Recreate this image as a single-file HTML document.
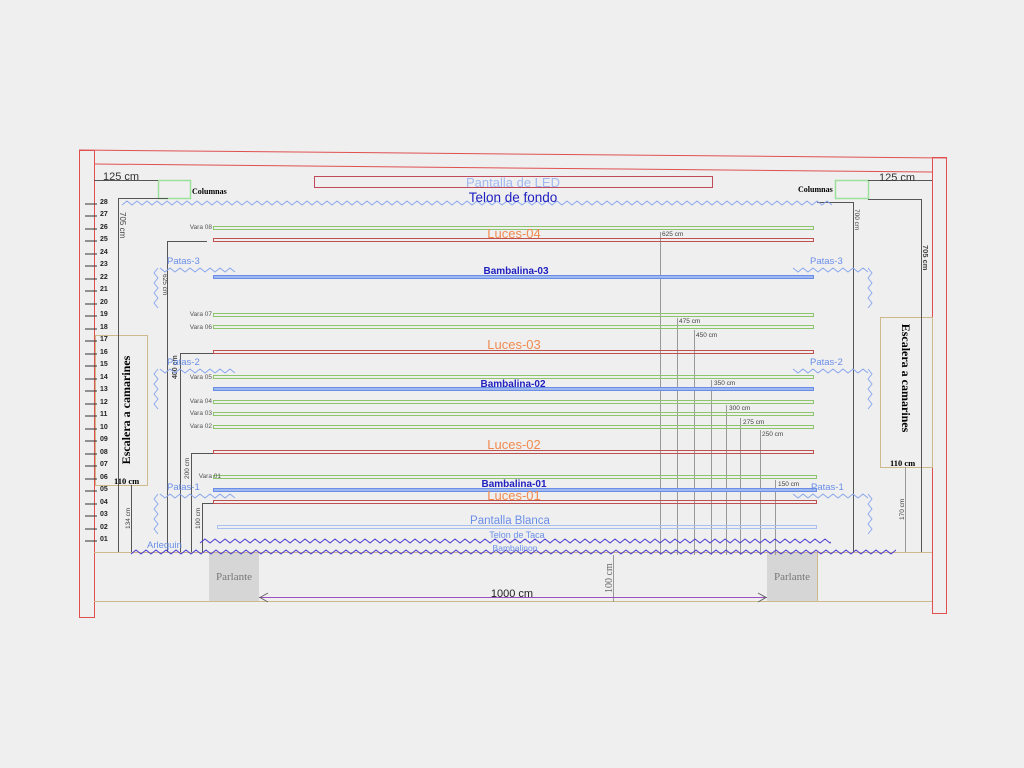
<!DOCTYPE html>
<html><head><meta charset="utf-8"><style>
html,body{margin:0;padding:0;background:#efefef;}
svg{display:block}
text{font-family:"Liberation Sans",sans-serif;}
</style></head><body>
<svg width="1024" height="768" viewBox="0 0 1024 768" xmlns="http://www.w3.org/2000/svg">
<defs>
<clipPath id="c1"><rect x="195" y="530" width="636" height="20"/></clipPath>
<clipPath id="c2"><rect x="128" y="545" width="768" height="15"/></clipPath>
<clipPath id="c3"><rect x="120" y="195" width="712" height="15"/></clipPath>
</defs>
<rect width="1024" height="768" fill="#efefef"/>
<!-- frame -->
<g fill="none" stroke="#e05050" stroke-width="1">
<rect x="79.5" y="150.5" width="15" height="467"/>
<rect x="932.5" y="157.5" width="14" height="456"/>
<line x1="79" y1="150" x2="946" y2="158"/>
<line x1="95" y1="164" x2="932" y2="172"/>
<rect x="314.5" y="176.5" width="398" height="11" stroke="#c04a5a"/>
</g>
<!-- stage -->
<g fill="none" stroke="#cdb98a">
<line x1="94" y1="552.5" x2="932" y2="552.5"/>
<line x1="94" y1="601.5" x2="932" y2="601.5"/>
<rect x="95.5" y="335.5" width="52" height="150"/>
<rect x="880.5" y="317.5" width="52" height="150"/>
<line x1="817.5" y1="552" x2="817.5" y2="602"/>
</g>
<rect x="209" y="553" width="50" height="48" fill="#d6d6d6"/>
<rect x="767" y="553" width="50" height="48" fill="#d6d6d6"/>
<text x="234" y="580" font-size="11" fill="#777" text-anchor="middle" style="font-family:'Liberation Serif',serif">Parlante</text>
<text x="792" y="580" font-size="11" fill="#777" text-anchor="middle" style="font-family:'Liberation Serif',serif">Parlante</text>
<!-- columnas -->
<rect x="158.5" y="180.5" width="32" height="18" fill="none" stroke="#9be09b" stroke-width="1.5"/>
<rect x="835.5" y="180.5" width="33" height="18" fill="none" stroke="#9be09b" stroke-width="1.5"/>
<text x="192" y="194" font-size="8" font-weight="bold" style="font-family:'Liberation Serif',serif">Columnas</text>
<text x="798" y="192" font-size="8" font-weight="bold" style="font-family:'Liberation Serif',serif">Columnas</text>
<!-- ruler -->
<g font-size="7" font-weight="bold" fill="#222">
<g stroke="#333" stroke-width="1">
<line x1="85" y1="204" x2="97" y2="204"/><line x1="85" y1="216" x2="97" y2="216"/><line x1="85" y1="229" x2="97" y2="229"/><line x1="85" y1="241" x2="97" y2="241"/><line x1="85" y1="254" x2="97" y2="254"/><line x1="85" y1="266" x2="97" y2="266"/><line x1="85" y1="279" x2="97" y2="279"/><line x1="85" y1="291" x2="97" y2="291"/><line x1="85" y1="304" x2="97" y2="304"/><line x1="85" y1="316" x2="97" y2="316"/><line x1="85" y1="329" x2="97" y2="329"/><line x1="85" y1="341" x2="97" y2="341"/><line x1="85" y1="354" x2="97" y2="354"/><line x1="85" y1="366" x2="97" y2="366"/><line x1="85" y1="379" x2="97" y2="379"/><line x1="85" y1="391" x2="97" y2="391"/><line x1="85" y1="404" x2="97" y2="404"/><line x1="85" y1="416" x2="97" y2="416"/><line x1="85" y1="429" x2="97" y2="429"/><line x1="85" y1="441" x2="97" y2="441"/><line x1="85" y1="454" x2="97" y2="454"/><line x1="85" y1="466" x2="97" y2="466"/><line x1="85" y1="479" x2="97" y2="479"/><line x1="85" y1="491" x2="97" y2="491"/><line x1="85" y1="504" x2="97" y2="504"/><line x1="85" y1="516" x2="97" y2="516"/><line x1="85" y1="529" x2="97" y2="529"/><line x1="85" y1="541" x2="97" y2="541"/>
</g>
<text x="100" y="204">28</text><text x="100" y="216">27</text><text x="100" y="229">26</text><text x="100" y="241">25</text><text x="100" y="254">24</text><text x="100" y="266">23</text><text x="100" y="279">22</text><text x="100" y="291">21</text><text x="100" y="304">20</text><text x="100" y="316">19</text><text x="100" y="329">18</text><text x="100" y="341">17</text><text x="100" y="354">16</text><text x="100" y="366">15</text><text x="100" y="379">14</text><text x="100" y="391">13</text><text x="100" y="404">12</text><text x="100" y="416">11</text><text x="100" y="429">10</text><text x="100" y="441">09</text><text x="100" y="454">08</text><text x="100" y="466">07</text><text x="100" y="479">06</text><text x="100" y="491">05</text><text x="100" y="504">04</text><text x="100" y="516">03</text><text x="100" y="529">02</text><text x="100" y="541">01</text>
</g>
<!-- escalera labels -->
<text transform="translate(130,410) rotate(-90)" font-size="12" font-weight="bold" text-anchor="middle" style="font-family:'Liberation Serif',serif">Escalera a camarines</text>
<text transform="translate(902,378) rotate(90)" font-size="12" font-weight="bold" text-anchor="middle" style="font-family:'Liberation Serif',serif">Escalera a camarines</text>
<text x="114" y="484" font-size="8.5" font-weight="bold" style="font-family:'Liberation Serif',serif">110 cm</text>
<text x="890" y="466" font-size="8.5" font-weight="bold" style="font-family:'Liberation Serif',serif">110 cm</text>
<!-- dimension lines -->
<g stroke="#555" stroke-width="1" fill="none">
<line x1="94" y1="180.5" x2="158" y2="180.5"/>
<line x1="868" y1="180.5" x2="932" y2="180.5"/>
<polyline points="118.5,552 118.5,198.5 168,198.5"/>
<polyline points="167.5,552 167.5,241.5 207,241.5"/>
<polyline points="180.5,552 180.5,353.5 213,353.5"/>
<polyline points="191.5,552 191.5,453.5 213,453.5"/>
<polyline points="202.5,552 202.5,503.5 213,503.5"/>
<line x1="131.5" y1="485" x2="131.5" y2="552"/>
<polyline points="817,202.5 853.5,202.5 853.5,552"/>
<polyline points="868,199.5 921.5,199.5 921.5,552"/>
</g>
<g stroke="#999" stroke-width="1">
<line x1="905.5" y1="467" x2="905.5" y2="552"/>
<line x1="660.5" y1="232" x2="660.5" y2="555"/>
<line x1="677.5" y1="318" x2="677.5" y2="555"/>
<line x1="694.5" y1="330" x2="694.5" y2="555"/>
<line x1="711.5" y1="380" x2="711.5" y2="555"/>
<line x1="726.5" y1="405" x2="726.5" y2="555"/>
<line x1="740.5" y1="418" x2="740.5" y2="555"/>
<line x1="760.5" y1="430" x2="760.5" y2="555"/>
<line x1="775.5" y1="480" x2="775.5" y2="555"/>
<line x1="613.5" y1="555" x2="613.5" y2="602"/>
</g>
<g font-size="6.5" fill="#444">
<text x="662" y="236">625 cm</text><text x="679" y="323">475 cm</text><text x="696" y="337">450 cm</text><text x="714" y="385">350 cm</text><text x="729" y="410">300 cm</text><text x="743" y="424">275 cm</text><text x="762" y="436">250 cm</text><text x="778" y="486">150 cm</text>
<text transform="translate(120,212) rotate(90)" font-size="8">705 cm</text>
<text transform="translate(163,274) rotate(90)">625 cm</text>
<text transform="translate(177,379) rotate(-90)" font-weight="bold" font-size="7">400 cm</text>
<text transform="translate(189,479) rotate(-90)">200 cm</text>
<text transform="translate(200,529) rotate(-90)">100 cm</text>
<text transform="translate(130,529) rotate(-90)">134 cm</text>
<text transform="translate(855,209) rotate(90)">700 cm</text>
<text transform="translate(923,245) rotate(90)" font-weight="bold" font-size="7.5">705 cm</text>
<text transform="translate(904,520) rotate(-90)">170 cm</text>
</g>
<text x="103" y="180" font-size="11" fill="#333">125 cm</text>
<text x="879" y="181" font-size="11" fill="#333">125 cm</text>
<!-- bars -->
<g fill="none" stroke-width="1">
<rect x="213.5" y="226.5" width="600" height="3" stroke="#8cc56c"/>
<rect x="213.5" y="238.5" width="600" height="3" stroke="#c05050"/>
<rect x="213.5" y="275.5" width="600" height="3" stroke="#6a8ee8" fill="#a0b8f0"/>
<rect x="213.5" y="313.5" width="600" height="3" stroke="#8cc56c"/>
<rect x="213.5" y="325.5" width="600" height="3" stroke="#8cc56c"/>
<rect x="213.5" y="350.5" width="600" height="3" stroke="#c05050"/>
<rect x="213.5" y="375.5" width="600" height="3" stroke="#8cc56c"/>
<rect x="213.5" y="387.5" width="600" height="3" stroke="#6a8ee8" fill="#a0b8f0"/>
<rect x="213.5" y="400.5" width="600" height="3" stroke="#8cc56c"/>
<rect x="213.5" y="412.5" width="600" height="3" stroke="#8cc56c"/>
<rect x="213.5" y="425.5" width="600" height="3" stroke="#8cc56c"/>
<rect x="213.5" y="450.5" width="600" height="3" stroke="#c05050"/>
<rect x="213.5" y="475.5" width="603" height="3" stroke="#8cc56c"/>
<rect x="213.5" y="488.5" width="603" height="3" stroke="#6a8ee8" fill="#a0b8f0"/>
<rect x="213.5" y="500.5" width="603" height="3" stroke="#c05050"/>
<rect x="217.5" y="525.5" width="599" height="3" stroke="#a8c0f0"/>
</g>
<g font-size="6.5" fill="#555" text-anchor="end">
<text x="212" y="229">Vara 08</text><text x="212" y="316">Vara 07</text><text x="212" y="329">Vara 06</text><text x="212" y="379">Vara 05</text><text x="212" y="403">Vara 04</text><text x="212" y="415">Vara 03</text><text x="212" y="428">Vara 02</text><text x="221" y="478">Vara 01</text>
</g>
<!-- waves -->
<g fill="none" stroke-width="1" stroke-linejoin="round">
<path clip-path="url(#c3)" stroke="#8aa8ee" d="M122,205 l5,-4l5,4l5,-4l5,4l5,-4l5,4l5,-4l5,4l5,-4l5,4l5,-4l5,4l5,-4l5,4l5,-4l5,4l5,-4l5,4l5,-4l5,4 l5,-4l5,4l5,-4l5,4l5,-4l5,4l5,-4l5,4l5,-4l5,4l5,-4l5,4l5,-4l5,4l5,-4l5,4l5,-4l5,4l5,-4l5,4 l5,-4l5,4l5,-4l5,4l5,-4l5,4l5,-4l5,4l5,-4l5,4l5,-4l5,4l5,-4l5,4l5,-4l5,4l5,-4l5,4l5,-4l5,4 l5,-4l5,4l5,-4l5,4l5,-4l5,4l5,-4l5,4l5,-4l5,4l5,-4l5,4l5,-4l5,4l5,-4l5,4l5,-4l5,4l5,-4l5,4 l5,-4l5,4l5,-4l5,4l5,-4l5,4l5,-4l5,4l5,-4l5,4l5,-4l5,4l5,-4l5,4l5,-4l5,4l5,-4l5,4l5,-4l5,4 l5,-4l5,4l5,-4l5,4l5,-4l5,4l5,-4l5,4l5,-4l5,4l5,-4l5,4l5,-4l5,4l5,-4l5,4l5,-4l5,4l5,-4l5,4 l5,-4l5,4l5,-4l5,4l5,-4l5,4l5,-4l5,4l5,-4l5,4l5,-4l5,4l5,-4l5,4l5,-4l5,4l5,-4l5,4l5,-4l5,4 l5,-4l5,4"/>
<g stroke="#8aa8ee">
<path d="M160,268 l5,4l5,-4l5,4l5,-4l5,4l5,-4l5,4l5,-4l5,4l5,-4l5,4l5,-4l5,4l5,-4l5,4"/>
<path d="M158,268 l-4,5l4,5l-4,5l4,5l-4,5l4,5l-4,5l4,5"/>
<path d="M793,268 l5,4l5,-4l5,4l5,-4l5,4l5,-4l5,4l5,-4l5,4l5,-4l5,4l5,-4l5,4l5,-4l5,4"/>
<path d="M868,268 l4,5l-4,5l4,5l-4,5l4,5l-4,5l4,5l-4,5"/>
<path d="M160,369 l5,4l5,-4l5,4l5,-4l5,4l5,-4l5,4l5,-4l5,4l5,-4l5,4l5,-4l5,4l5,-4l5,4"/>
<path d="M158,369 l-4,5l4,5l-4,5l4,5l-4,5l4,5l-4,5l4,5"/>
<path d="M793,369 l5,4l5,-4l5,4l5,-4l5,4l5,-4l5,4l5,-4l5,4l5,-4l5,4l5,-4l5,4l5,-4l5,4"/>
<path d="M868,369 l4,5l-4,5l4,5l-4,5l4,5l-4,5l4,5l-4,5"/>
<path d="M160,494 l5,4l5,-4l5,4l5,-4l5,4l5,-4l5,4l5,-4l5,4l5,-4l5,4l5,-4l5,4l5,-4l5,4"/>
<path d="M158,494 l-4,5l4,5l-4,5l4,5l-4,5l4,5l-4,5l4,5"/>
<path d="M793,494 l5,4l5,-4l5,4l5,-4l5,4l5,-4l5,4l5,-4l5,4l5,-4l5,4l5,-4l5,4l5,-4l5,4"/>
<path d="M868,494 l4,5l-4,5l4,5l-4,5l4,5l-4,5l4,5l-4,5"/>
</g>
<g stroke="#4a3ad0">
<path clip-path="url(#c1)" d="M200,543 l5,-4l5,4l5,-4l5,4l5,-4l5,4l5,-4l5,4l5,-4l5,4l5,-4l5,4l5,-4l5,4l5,-4l5,4l5,-4l5,4l5,-4l5,4 l5,-4l5,4l5,-4l5,4l5,-4l5,4l5,-4l5,4l5,-4l5,4l5,-4l5,4l5,-4l5,4l5,-4l5,4l5,-4l5,4l5,-4l5,4 l5,-4l5,4l5,-4l5,4l5,-4l5,4l5,-4l5,4l5,-4l5,4l5,-4l5,4l5,-4l5,4l5,-4l5,4l5,-4l5,4l5,-4l5,4 l5,-4l5,4l5,-4l5,4l5,-4l5,4l5,-4l5,4l5,-4l5,4l5,-4l5,4l5,-4l5,4l5,-4l5,4l5,-4l5,4l5,-4l5,4 l5,-4l5,4l5,-4l5,4l5,-4l5,4l5,-4l5,4l5,-4l5,4l5,-4l5,4l5,-4l5,4l5,-4l5,4l5,-4l5,4l5,-4l5,4 l5,-4l5,4l5,-4l5,4l5,-4l5,4l5,-4l5,4l5,-4l5,4l5,-4l5,4l5,-4l5,4l5,-4l5,4l5,-4l5,4l5,-4l5,4 l5,-4l5,4l5,-4l5,4l5,-4l5,4l5,-4l5,4l5,-4l5,4l5,-4l5,4l5,-4l5,4"/>
<path clip-path="url(#c2)" d="M131,554 l5,-4l5,4l5,-4l5,4l5,-4l5,4l5,-4l5,4l5,-4l5,4l5,-4l5,4l5,-4l5,4l5,-4l5,4l5,-4l5,4l5,-4l5,4 l5,-4l5,4l5,-4l5,4l5,-4l5,4l5,-4l5,4l5,-4l5,4l5,-4l5,4l5,-4l5,4l5,-4l5,4l5,-4l5,4l5,-4l5,4 l5,-4l5,4l5,-4l5,4l5,-4l5,4l5,-4l5,4l5,-4l5,4l5,-4l5,4l5,-4l5,4l5,-4l5,4l5,-4l5,4l5,-4l5,4 l5,-4l5,4l5,-4l5,4l5,-4l5,4l5,-4l5,4l5,-4l5,4l5,-4l5,4l5,-4l5,4l5,-4l5,4l5,-4l5,4l5,-4l5,4 l5,-4l5,4l5,-4l5,4l5,-4l5,4l5,-4l5,4l5,-4l5,4l5,-4l5,4l5,-4l5,4l5,-4l5,4l5,-4l5,4l5,-4l5,4 l5,-4l5,4l5,-4l5,4l5,-4l5,4l5,-4l5,4l5,-4l5,4l5,-4l5,4l5,-4l5,4l5,-4l5,4l5,-4l5,4l5,-4l5,4 l5,-4l5,4l5,-4l5,4l5,-4l5,4l5,-4l5,4l5,-4l5,4l5,-4l5,4l5,-4l5,4l5,-4l5,4l5,-4l5,4l5,-4l5,4 l5,-4l5,4l5,-4l5,4l5,-4l5,4l5,-4l5,4l5,-4l5,4l5,-4l5,4l5,-4l5,4l5,-4l5,4l5,-4l5,4l5,-4l5,4"/>
</g>
</g>
<!-- labels -->
<g text-anchor="middle">
<text x="513" y="187" font-size="13" fill="#a0b8f0">Pantalla de LED</text>
<text x="513" y="202" font-size="13.5" fill="#2020c0">Telon de fondo</text>
<text x="514" y="238" font-size="13" fill="#f08a50">Luces-04</text>
<text x="516" y="274" font-size="10" font-weight="bold" fill="#2020c0">Bambalina-03</text>
<text x="514" y="349" font-size="13" fill="#f08a50">Luces-03</text>
<text x="513" y="387" font-size="10" font-weight="bold" fill="#2020c0">Bambalina-02</text>
<text x="514" y="449" font-size="13" fill="#f08a50">Luces-02</text>
<text x="514" y="487" font-size="10" font-weight="bold" fill="#2020c0">Bambalina-01</text>
<text x="514" y="500" font-size="13" fill="#f08a50">Luces-01</text>
<text x="510" y="524" font-size="11.5" fill="#6a8ee8">Pantalla Blanca</text>
<text x="517" y="538" font-size="9" fill="#6a8ee8">Telon de Taca</text>
<text x="515" y="551" font-size="8.5" fill="#6a8ee8">Bambalinon</text>
<text x="512" y="597" font-size="11" fill="#222">1000 cm</text>
</g>
<g font-size="9.5" fill="#6a8ee8">
<text x="167" y="264">Patas-3</text><text x="810" y="264">Patas-3</text>
<text x="167" y="365">Patas-2</text><text x="810" y="365">Patas-2</text>
<text x="167" y="490">Patas-1</text><text x="811" y="490">Patas-1</text>
<text x="147" y="548">Arlequin</text>
</g>
<text transform="translate(612,593) rotate(-90)" font-size="10" fill="#666" style="font-family:'Liberation Serif',serif">100 cm</text>
<!-- 1000 cm arrow -->
<line x1="259" y1="597.5" x2="767" y2="597.5" stroke="#9a50c0"/>
<polyline points="268,593 260,597.5 268,602" fill="none" stroke="#666"/>
<polyline points="758,593 766,597.5 758,602" fill="none" stroke="#666"/>
</svg>
</body></html>
